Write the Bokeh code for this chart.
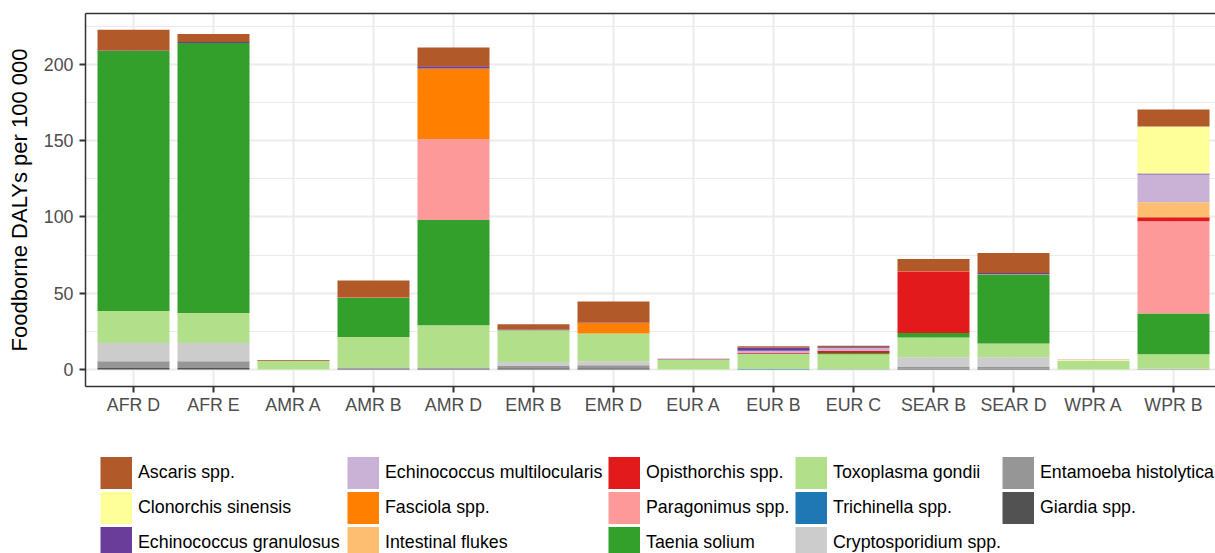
from bokeh.plotting import figure
from bokeh.layouts import column
from bokeh.models import (ColumnDataSource, Legend, LegendItem, Range1d,
                          FixedTicker, SingleIntervalTicker, LinearAxis)
from bokeh.embed import file_html
from bokeh.resources import INLINE

regions = ["AFR D", "AFR E", "AMR A", "AMR B", "AMR D", "EMR B", "EMR D",
           "EUR A", "EUR B", "EUR C", "SEAR B", "SEAR D", "WPR A", "WPR B"]

# legend order (ggplot legend, column-major)
species = ["Ascaris spp.", "Clonorchis sinensis", "Echinococcus granulosus",
           "Echinococcus multilocularis", "Fasciola spp.", "Intestinal flukes",
           "Opisthorchis spp.", "Paragonimus spp.", "Taenia solium",
           "Toxoplasma gondii", "Trichinella spp.", "Cryptosporidium spp.",
           "Entamoeba histolytica", "Giardia spp."]

colors = ["#B15928", "#FFFF99", "#6A3D9A", "#CAB2D6", "#FF7F00", "#FDBF6F",
          "#E31A1C", "#FB9A99", "#33A02C", "#B2DF8A", "#1F78B4", "#CCCCCC",
          "#969696", "#525252"]

ascaris       = [13.5, 5.2, 0.6, 10.9, 12.2, 3.5, 13.8, 0.2, 0.8, 0.9, 7.8, 13.1, 0.1, 11.1]
clonorchis    = [0, 0, 0, 0, 0, 0, 0, 0, 0, 0, 0, 0, 0.3, 30.8]
e_granulosus  = [0.3, 0.8, 0.1, 0.2, 1.5, 0.5, 0.3, 0.2, 2.2, 0.5, 0.1, 0.8, 0, 0.7]
e_multilocul  = [0, 0, 0, 0, 0, 0, 0, 0.3, 1.4, 2.0, 0, 0, 0, 18.1]
fasciola      = [0, 0, 0, 0.3, 46.2, 0, 6.9, 0, 0, 0, 0, 0, 0, 0]
int_flukes    = [0, 0, 0, 0, 0, 0, 0, 0, 0, 0, 0.1, 0.2, 0.3, 9.8]
opisthorchis  = [0, 0, 0, 0, 0, 0, 0, 0, 0.6, 1.3, 40.4, 0, 0, 2.7]
paragonimus   = [0, 0, 0, 0, 53.0, 0, 0, 0, 0, 0, 0, 0, 0, 60.4]
taenia        = [170.3, 176.7, 0, 25.5, 69.0, 0, 0, 0, 0, 0.9, 3.0, 45.2, 0, 26.7]
toxoplasma    = [21.0, 19.7, 5.5, 20.1, 27.7, 20.7, 18.2, 6.3, 10.0, 9.8, 12.9, 8.9, 5.7, 9.4]
trichinella   = [0, 0, 0, 0, 0, 0, 0, 0, 0.3, 0.2, 0, 0, 0, 0]
cryptosporid  = [12.0, 12.0, 0, 0, 0, 2.6, 2.6, 0, 0, 0, 6.1, 6.1, 0, 0.2]
entamoeba     = [4.4, 4.4, 0, 0.8, 0.8, 1.6, 2.0, 0, 0, 0, 1.5, 1.5, 0, 0.3]
giardia       = [1.0, 1.0, 0.1, 0.5, 0.5, 0.8, 0.8, 0, 0, 0, 0.5, 0.5, 0, 0.1]

series = [ascaris, clonorchis, e_granulosus, e_multilocul, fasciola, int_flukes,
          opisthorchis, paragonimus, taenia, toxoplasma, trichinella,
          cryptosporid, entamoeba, giardia]

FONT = "Liberation Sans"
BORDER = "#333333"

data = {"x": list(range(len(regions)))}
for name, vals in zip(species, series):
    data[name] = vals
source = ColumnDataSource(data)

stack_order = list(reversed(species))
color_of = dict(zip(species, colors))

# ---------------- main chart ----------------
p = figure(width=1215, height=440,
           x_range=Range1d(-0.6, 13.525), y_range=Range1d(-11.1, 233.2),
           output_backend="svg", toolbar_location=None,
           min_border_left=85, min_border_right=0, min_border_top=13,
           min_border_bottom=54)

p.vbar_stack(stack_order, x="x", width=0.9, source=source,
             fill_color=[color_of[s] for s in stack_order], line_color=None)

p.xaxis.ticker = FixedTicker(ticks=list(range(len(regions))))
p.xaxis.major_label_overrides = {i: r for i, r in enumerate(regions)}
p.yaxis.ticker = SingleIntervalTicker(interval=50, num_minor_ticks=2)
for ax in (p.xaxis, p.yaxis):
    ax.axis_line_color = BORDER
    ax.axis_line_width = 1.5
    ax.major_tick_in = 0
    ax.major_tick_out = 6
    ax.major_tick_line_color = BORDER
    ax.major_tick_line_width = 2
    ax.minor_tick_line_color = None
    ax.major_label_text_font = FONT
    ax.major_label_text_font_size = "17.8px"
    ax.major_label_text_color = "#4D4D4D"
p.xaxis.major_label_standoff = 2
p.yaxis.major_label_standoff = 6
p.yaxis.axis_label = "Foodborne DALYs per 100 000"
p.yaxis.axis_label_text_font = FONT
p.yaxis.axis_label_text_font_size = "22px"
p.yaxis.axis_label_text_font_style = "normal"
p.yaxis.axis_label_text_color = "black"
p.yaxis.axis_label_standoff = 9

# top border of the panel (the right border lies outside the cropped view)
top_axis = LinearAxis(ticker=FixedTicker(ticks=[]), axis_line_color=BORDER,
                      axis_line_width=1.5, major_tick_line_color=None,
                      minor_tick_line_color=None, major_tick_out=0,
                      major_tick_in=0, major_label_standoff=0)
p.add_layout(top_axis, "above")

p.xgrid.grid_line_color = "#EBEBEB"
p.xgrid.grid_line_width = 2
p.ygrid.grid_line_color = "#EBEBEB"
p.ygrid.grid_line_width = 2
p.ygrid.minor_grid_line_color = "#EBEBEB"
p.ygrid.minor_grid_line_width = 1

p.outline_line_color = None
p.background_fill_color = "white"
p.border_fill_color = "white"

# ---------------- legend panel ----------------
# keys are drawn by thick-line renderers of the same series, kept out of view
lf = figure(width=1215, height=113, x_range=Range1d(1000, 2215),
            y_range=Range1d(-1000, -900), output_backend="svg",
            toolbar_location=None, x_axis_type=None, y_axis_type=None,
            min_border=0, min_border_left=0, min_border_right=0,
            min_border_top=0, min_border_bottom=0)
lf.grid.visible = False
lf.outline_line_color = None
lf.background_fill_color = "white"
lf.border_fill_color = "white"

KEY = 32
rmap = {}
for name in species:
    rmap[name] = lf.line(x="x", y=name, source=source, line_color=color_of[name],
                         line_width=KEY, line_cap="butt")

FRAME_LEFT = 85          # legend frame is aligned with the chart frame
col_x = [100, 347, 608, 795, 1002]
ITEM_H = 35
TOP = 15                 # top of first item box inside the legend panel
for c in range(5):
    names = species[c * 3:(c + 1) * 3]
    items = [LegendItem(label=n, renderers=[rmap[n]]) for n in names]
    lh = len(items) * ITEM_H
    leg = Legend(items=items, location=(col_x[c] - FRAME_LEFT, 113 - TOP - lh),
                 orientation="vertical", glyph_width=KEY, glyph_height=ITEM_H,
                 label_standoff=6, spacing=0, padding=0, margin=0,
                 border_line_color=None, background_fill_alpha=0,
                 label_text_font=FONT, label_text_font_size="17.8px",
                 label_text_color="black", label_height=20)
    lf.add_layout(leg)

layout = column(p, lf, spacing=0)
open("out.html", "w").write(file_html(layout, INLINE))
